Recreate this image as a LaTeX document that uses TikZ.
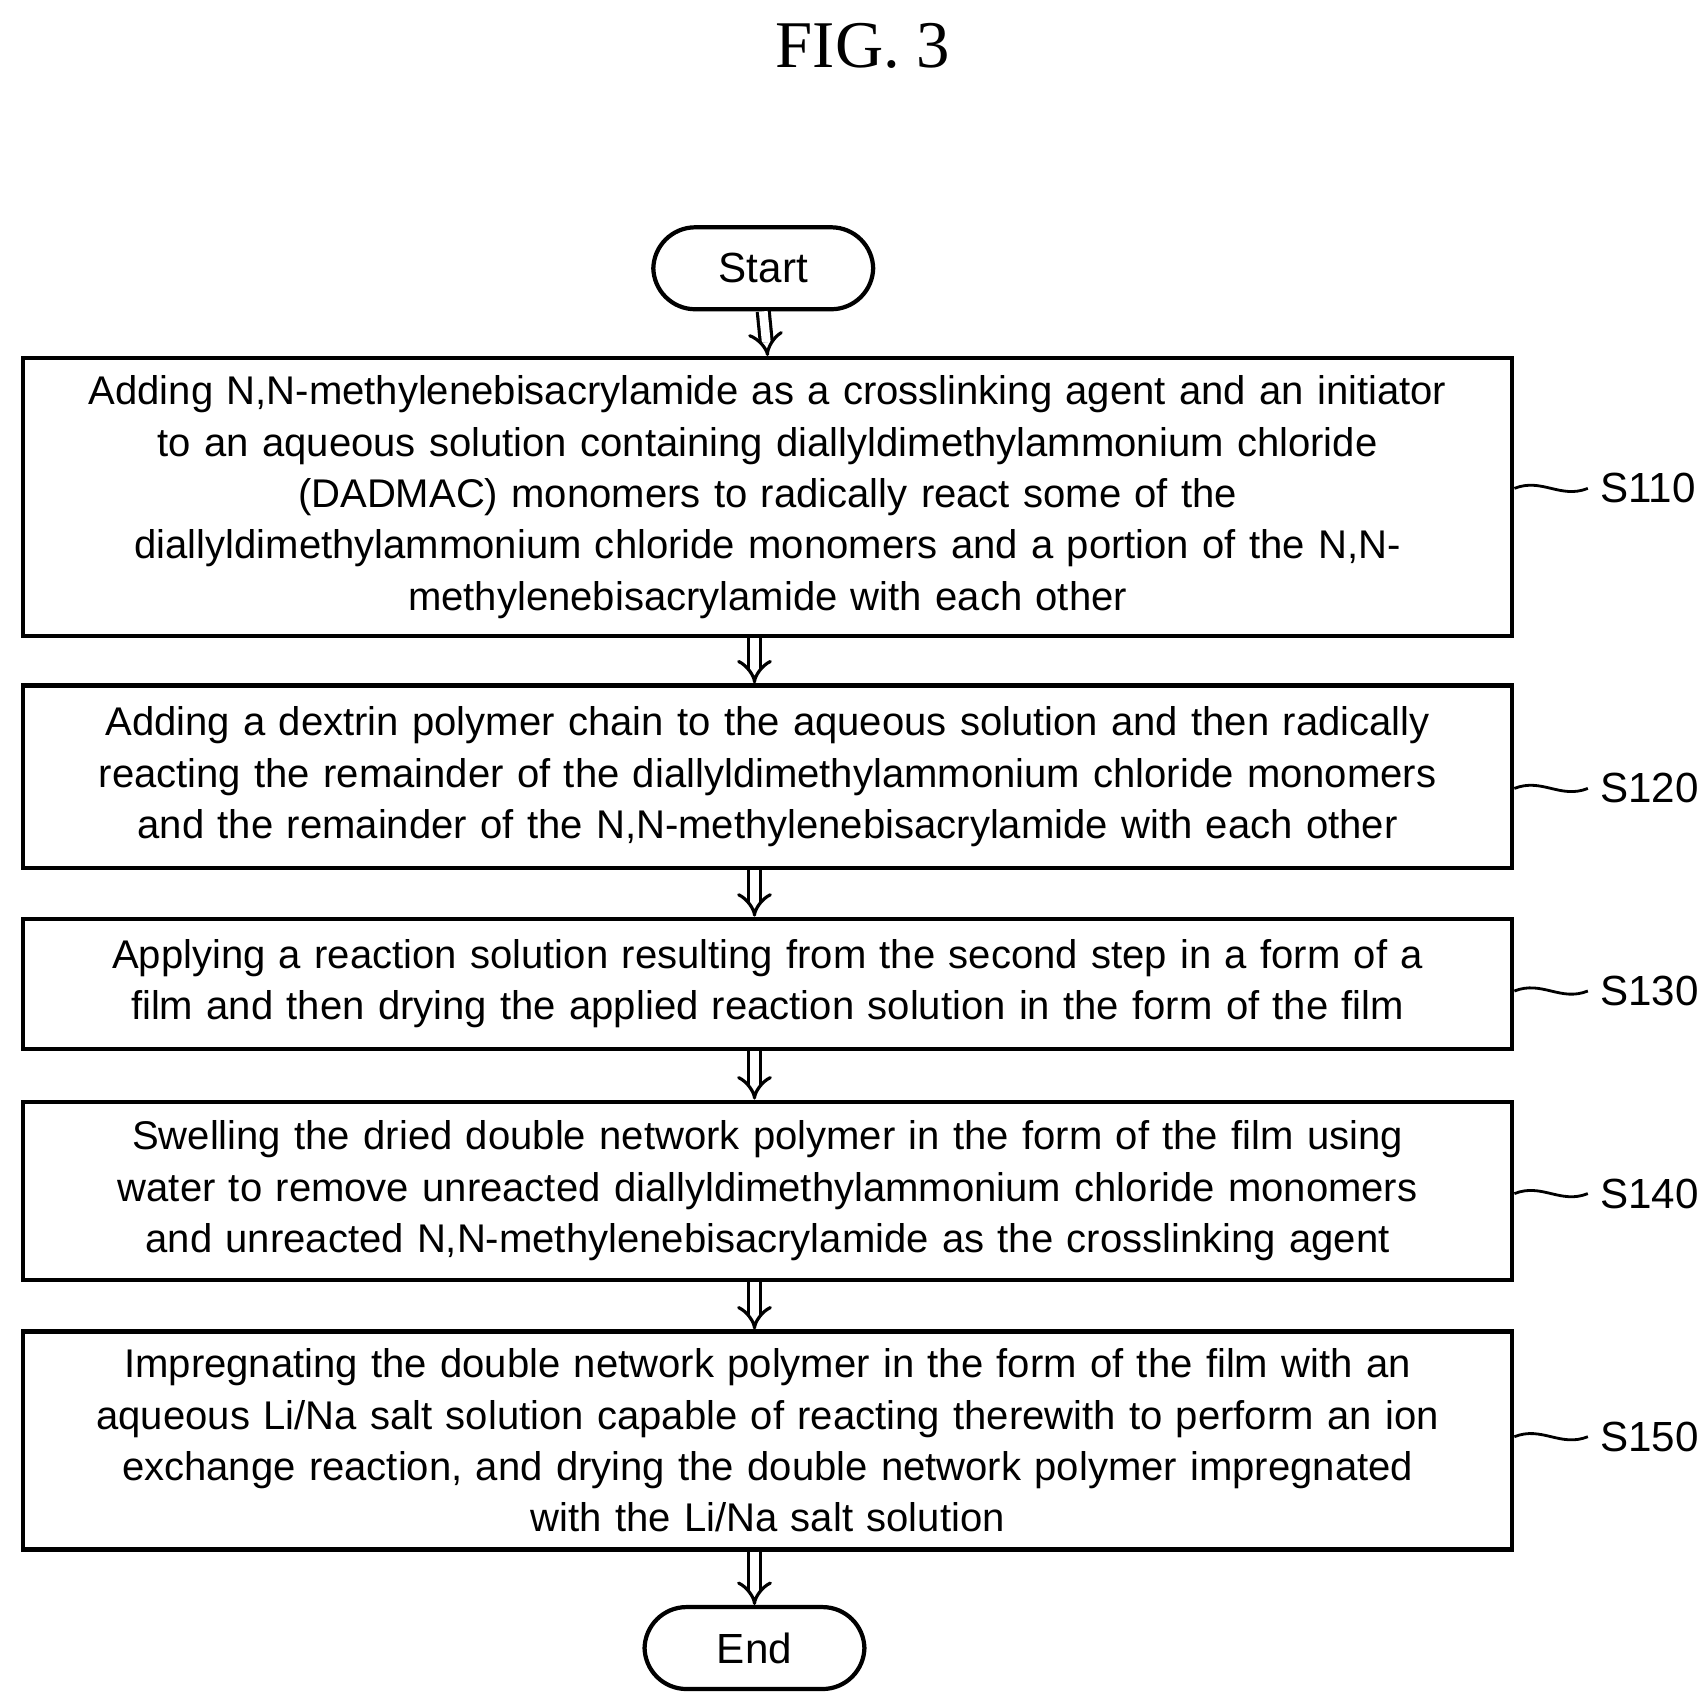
\documentclass[tikz,border=0pt]{standalone}
\usepackage{fontspec}
\setmainfont{Liberation Sans}
\newfontfamily\figfont{Liberation Serif}
\usetikzlibrary{arrows.meta,positioning}
\begin{document}
\begin{tikzpicture}[x=0.01095cm,y=-0.01095cm,
    paso/.style={draw,line width=1.2pt,minimum width=1360*0.01095cm,align=center,text width=14.7cm,
      font=\fontsize{11.4pt}{14.6pt}\selectfont,inner sep=0pt},
    term/.style={draw,line width=1.2pt,rounded corners=0.42cm,minimum width=2.2cm,minimum height=0.82cm,
      font=\fontsize{12pt}{14pt}\selectfont},
    flow/.style={double,double distance=2.5pt,line width=0.9pt,-{Implies[length=5pt]}},
    lead/.style={line width=0.8pt}]
    \useasboundingbox (0,0) rectangle (1557,1551);

    %titulo
    \node[font=\figfont\fontsize{19pt}{22pt}\selectfont] (fig) at (788,42) {FIG. 3};

    %pasos
    \node[term] (start) at (697,245) {Start};
    \node[paso,minimum height=254*0.01095cm] (s1) at (701,454) {Adding N,N-methylenebisacrylamide as a crosslinking agent and an initiator\\ to an aqueous solution containing diallyldimethylammonium chloride\\ (DADMAC) monomers to radically react some of the\\ diallyldimethylammonium chloride monomers and a portion of the N,N-\\ methylenebisacrylamide with each other};
    \node[paso,minimum height=167*0.01095cm] (s2) at (701,709.5) {Adding a dextrin polymer chain to the aqueous solution and then radically\\ reacting the remainder of the diallyldimethylammonium chloride monomers\\ and the remainder of the N,N-methylenebisacrylamide with each other};
    \node[paso,minimum height=119*0.01095cm] (s3) at (701,898.5) {Applying a reaction solution resulting from the second step in a form of a\\ film and then drying the applied reaction solution in the form of the film};
    \node[paso,minimum height=163*0.01095cm] (s4) at (701,1087.5) {Swelling the dried double network polymer in the form of the film using\\ water to remove unreacted diallyldimethylammonium chloride monomers\\ and unreacted N,N-methylenebisacrylamide as the crosslinking agent};
    \node[paso,minimum height=199*0.01095cm] (s5) at (701,1315.5) {Impregnating the double network polymer in the form of the film with an\\ aqueous Li/Na salt solution capable of reacting therewith to perform an ion\\ exchange reaction, and drying the double network polymer impregnated\\ with the Li/Na salt solution};
    \node[term] (end) at (689,1505) {End};

    %flechas
    \draw[flow] (start.south) -- (s1.north);
    \foreach \a/\b in {s1/s2,s2/s3,s3/s4,s4/s5,s5/end}{
        \draw[flow] (\a.south -| end) -- (\b.north -| end);
    }

    %etiquetas
    \foreach \s/\y/\t in {s1/446/S110,s2/720/S120,s3/905/S130,s4/1090/S140,s5/1312/S150}{
        \node[font=\fontsize{12pt}{14pt}\selectfont,anchor=west] (l\s) at (1450,\y) {\t};
        \draw[lead] (\s.east |- l\s.west) .. controls +(25,-10) and +(-25,10) .. (l\s.west);
    }
\end{tikzpicture}
\end{document}
